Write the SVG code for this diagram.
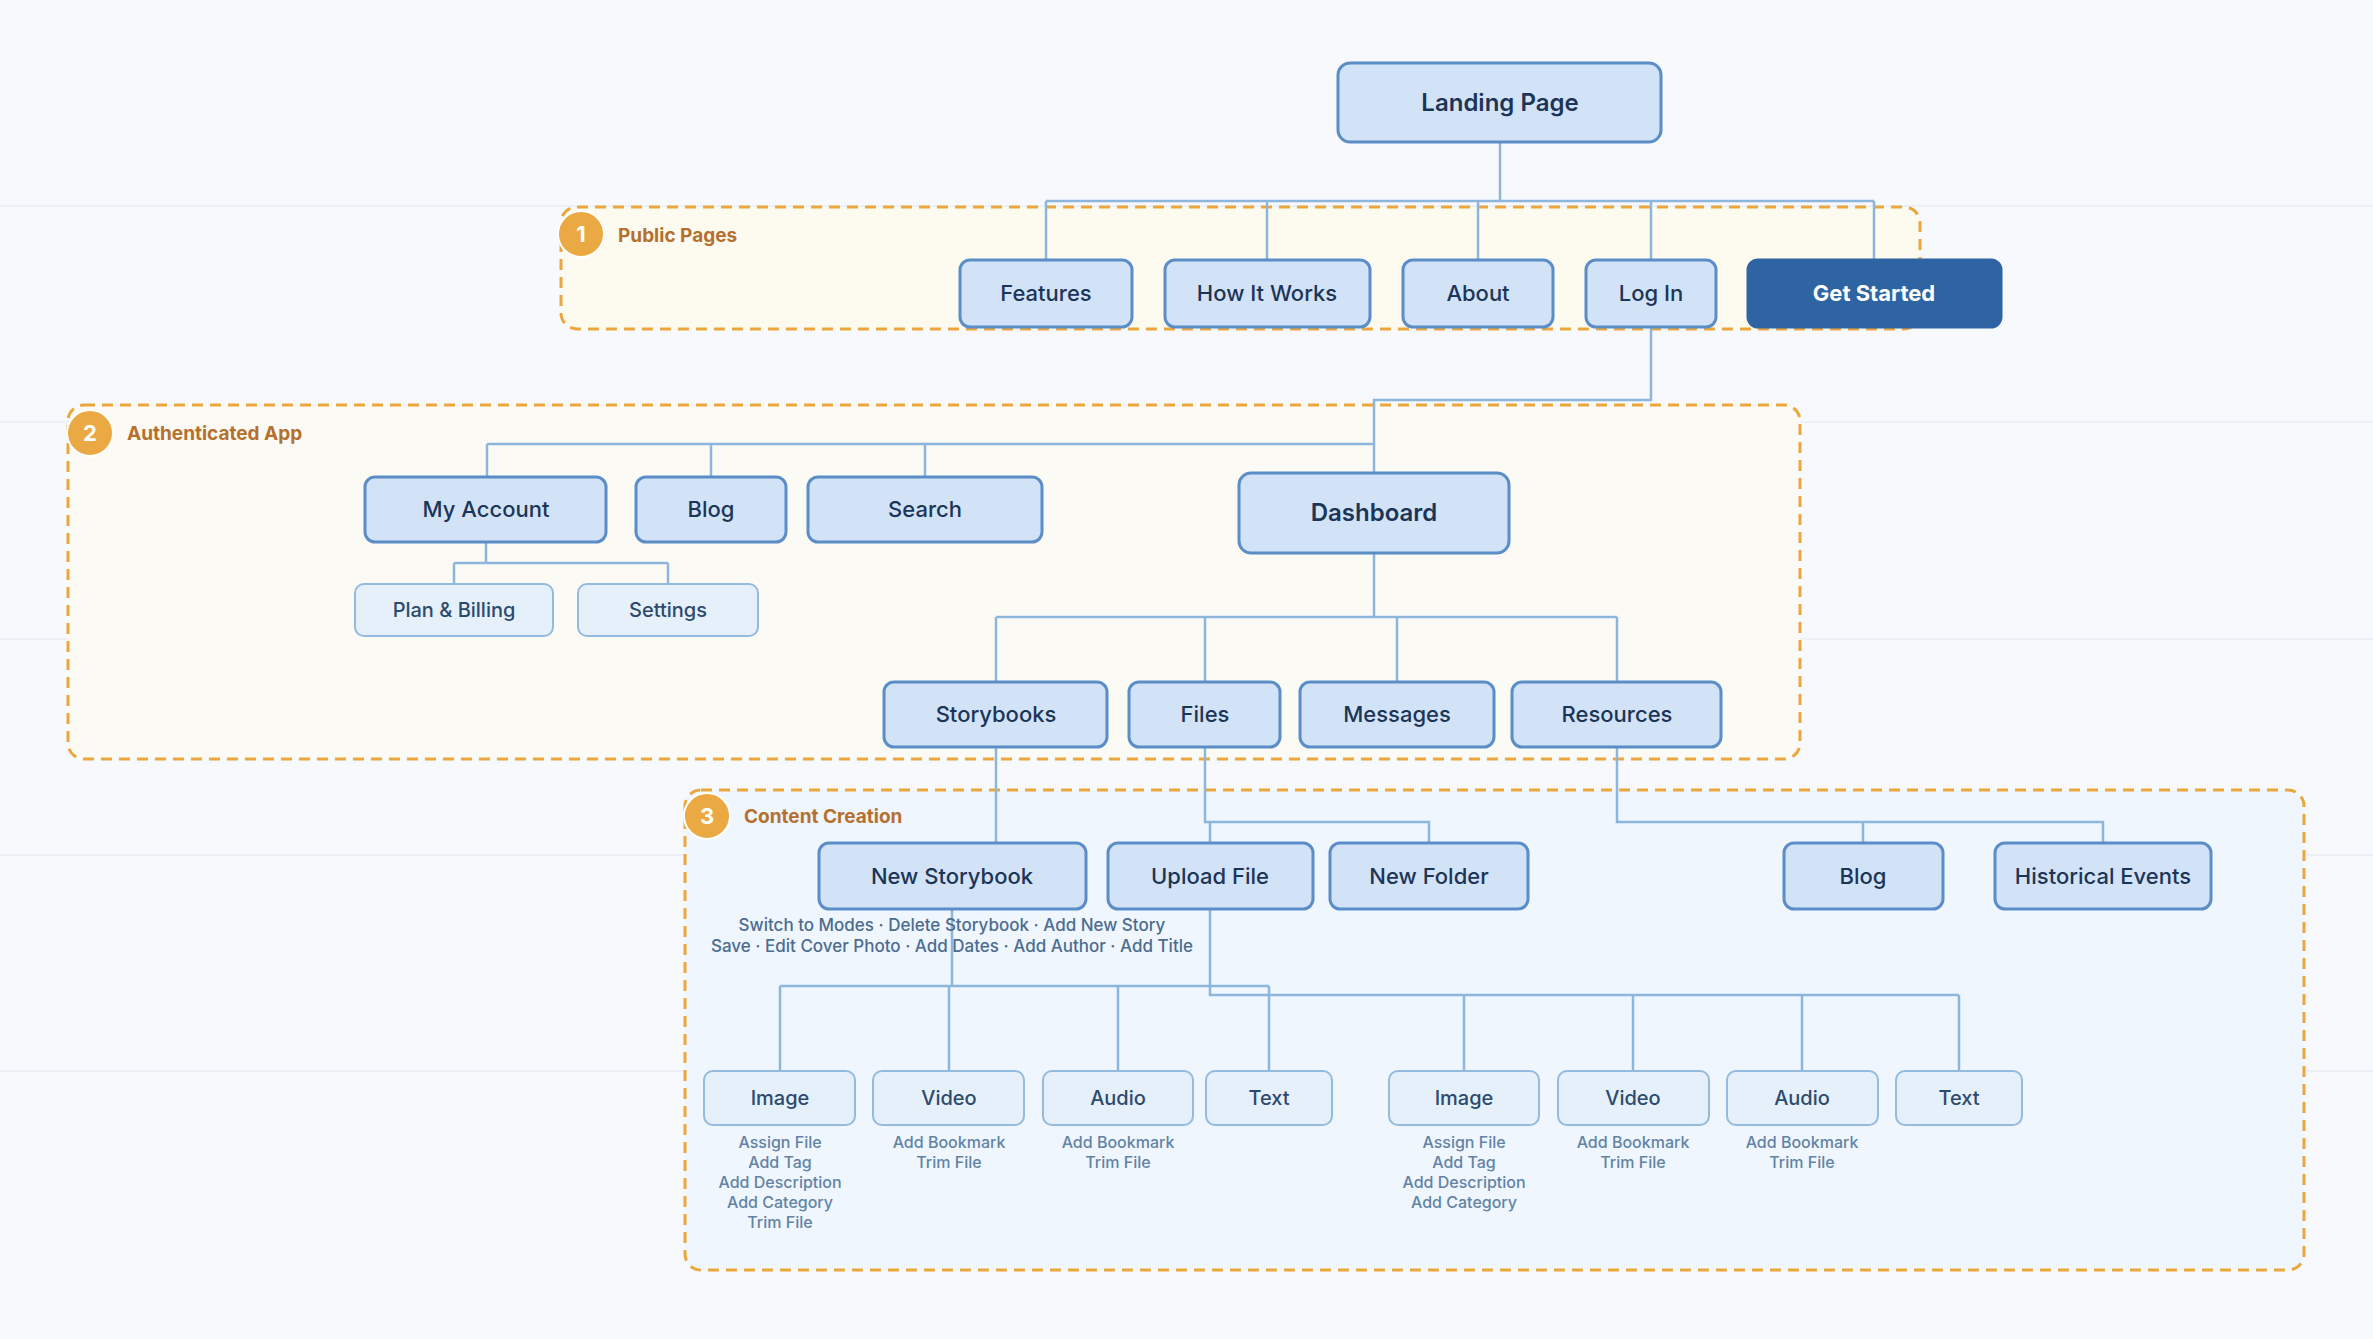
<svg xmlns="http://www.w3.org/2000/svg" width="2373" height="1339" viewBox="0 0 2373 1339">
<defs>
<style>
.bg{fill:#f7f9fd}
.grid{stroke:#edf0f5;stroke-width:2}
.grp{stroke:#eba73d;stroke-width:3;stroke-dasharray:11 7}
.gy{fill:#fdfbef}
.ga{fill:#fbfaf4}
.gc{fill:#eff6fd}
.badge{fill:#eba943;stroke:#ffffff;stroke-width:2}
.bnum{font-family:Inter,"Liberation Sans",sans-serif;font-weight:700;font-size:22px;fill:#ffffff;text-anchor:middle}
.glab{font-family:Inter,"Liberation Sans",sans-serif;font-weight:700;font-size:19px;fill:#b5702f}
.n rect{fill:#d2e3f7;stroke:#5b8ec7;stroke-width:3}
.n text{font-family:Inter,"Liberation Sans",sans-serif;font-weight:500;font-size:22px;fill:#1c3557;text-anchor:middle}
.n.big text{font-weight:600;font-size:24px}
.n.dark rect{fill:#2f64a3;stroke:#2f64a3}
.n.dark text{fill:#ffffff;font-weight:700}
.l rect{fill:#e6f0fa;stroke:#93badf;stroke-width:2}
.l text{font-family:Inter,"Liberation Sans",sans-serif;font-weight:500;font-size:20px;fill:#2c4a6e;text-anchor:middle}
.d{font-family:Inter,"Liberation Sans",sans-serif;font-weight:500;font-size:16px;fill:#6283a5;text-anchor:middle}
.sd{font-family:Inter,"Liberation Sans",sans-serif;font-weight:500;font-size:17px;fill:#4c6c90;text-anchor:middle}
.c{fill:none;stroke:#8db6dd;stroke-width:2.5}
</style>
</defs>
<rect class="bg" x="0" y="0" width="2373" height="1339"/>
<g id="grid">
<line class="grid" x1="0" y1="206" x2="2373" y2="206"/>
<line class="grid" x1="0" y1="422" x2="2373" y2="422"/>
<line class="grid" x1="0" y1="639" x2="2373" y2="639"/>
<line class="grid" x1="0" y1="855" x2="2373" y2="855"/>
<line class="grid" x1="0" y1="1071" x2="2373" y2="1071"/>
</g>
<g id="groups">
<rect class="grp gy" x="561" y="207" width="1359" height="122" rx="16"/>
<rect class="grp ga" x="68" y="405" width="1732" height="354" rx="16"/>
<rect class="grp gc" x="685" y="790" width="1619" height="480" rx="16"/>
</g>
<g id="connectors">
<path class="c" d="M1500,142 V201 M1046,201 H1874 M1046,201 V260 M1267,201 V260 M1478,201 V260 M1651,201 V260 M1874,201 V260"/>
<path class="c" d="M1651,327 V400 H1374 V473"/>
<path class="c" d="M487,444 H1374 M487,444 V477 M711,444 V477 M925,444 V477"/>
<path class="c" d="M486,542 V563 M454,563 H668 M454,563 V584 M668,563 V584"/>
<path class="c" d="M1374,553 V617 M996,617 H1617 M996,617 V682 M1205,617 V682 M1397,617 V682 M1617,617 V682"/>
<path class="c" d="M996,747 V843"/>
<path class="c" d="M1205,747 V822 H1429 V843 M1210,822 V843"/>
<path class="c" d="M1617,747 V822 H2103 V843 M1863,822 V843"/>
<path class="c" d="M952,909 V986 M780,986 H1269 M780,986 V1071 M949,986 V1071 M1118,986 V1071 M1269,986 V1071"/>
<path class="c" d="M1210,909 V995 H1959 M1464,995 V1071 M1633,995 V1071 M1802,995 V1071 M1959,995 V1071"/>
</g>
<g id="badges">
<circle class="badge" cx="581" cy="234" r="23"/><text class="bnum" x="581" y="242">1</text>
<text class="glab" x="618" y="242">Public Pages</text>
<circle class="badge" cx="90" cy="433" r="23"/><text class="bnum" x="90" y="441">2</text>
<text class="glab" x="127" y="440">Authenticated App</text>
<circle class="badge" cx="707" cy="816" r="23"/><text class="bnum" x="707" y="824">3</text>
<text class="glab" x="744" y="823">Content Creation</text>
</g>
<g id="landing" class="n big"><rect x="1338" y="63" width="323" height="79" rx="12"/><text x="1500" y="111">Landing Page</text></g>
<g id="features" class="n"><rect x="960" y="260" width="172" height="67" rx="10"/><text x="1046" y="301">Features</text></g>
<g id="howitworks" class="n"><rect x="1165" y="260" width="205" height="67" rx="10"/><text x="1267" y="301">How It Works</text></g>
<g id="about" class="n"><rect x="1403" y="260" width="150" height="67" rx="10"/><text x="1478" y="301">About</text></g>
<g id="login" class="n"><rect x="1586" y="260" width="130" height="67" rx="10"/><text x="1651" y="301">Log In</text></g>
<g id="getstarted" class="n dark"><rect x="1748" y="260" width="253" height="67" rx="10"/><text x="1874" y="301">Get Started</text></g>
<g id="myaccount" class="n"><rect x="365" y="477" width="241" height="65" rx="10"/><text x="486" y="517">My Account</text></g>
<g id="blog-app" class="n"><rect x="636" y="477" width="150" height="65" rx="10"/><text x="711" y="517">Blog</text></g>
<g id="search" class="n"><rect x="808" y="477" width="234" height="65" rx="10"/><text x="925" y="517">Search</text></g>
<g id="dashboard" class="n big"><rect x="1239" y="473" width="270" height="80" rx="12"/><text x="1374" y="521">Dashboard</text></g>
<g id="plan" class="l"><rect x="355" y="584" width="198" height="52" rx="9"/><text x="454" y="617">Plan &amp; Billing</text></g>
<g id="settings" class="l"><rect x="578" y="584" width="180" height="52" rx="9"/><text x="668" y="617">Settings</text></g>
<g id="storybooks" class="n"><rect x="884" y="682" width="223" height="65" rx="10"/><text x="996" y="722">Storybooks</text></g>
<g id="files" class="n"><rect x="1129" y="682" width="151" height="65" rx="10"/><text x="1205" y="722">Files</text></g>
<g id="messages" class="n"><rect x="1300" y="682" width="194" height="65" rx="10"/><text x="1397" y="722">Messages</text></g>
<g id="resources" class="n"><rect x="1512" y="682" width="209" height="65" rx="10"/><text x="1617" y="722">Resources</text></g>
<g id="newstorybook" class="n"><rect x="819" y="843" width="267" height="66" rx="10"/><text x="952" y="884">New Storybook</text></g>
<g id="uploadfile" class="n"><rect x="1108" y="843" width="205" height="66" rx="10"/><text x="1210" y="884">Upload File</text></g>
<g id="newfolder" class="n"><rect x="1330" y="843" width="198" height="66" rx="10"/><text x="1429" y="884">New Folder</text></g>
<g id="blog-res" class="n"><rect x="1784" y="843" width="159" height="66" rx="10"/><text x="1863" y="884">Blog</text></g>
<g id="historical" class="n"><rect x="1995" y="843" width="216" height="66" rx="10"/><text x="2103" y="884">Historical Events</text></g>
<g id="newstorybook-notes">
<text class="sd" x="952" y="931">Switch to Modes · Delete Storybook · Add New Story</text>
<text class="sd" x="952" y="952">Save · Edit Cover Photo · Add Dates · Add Author · Add Title</text>
</g>
<g id="sb-image" class="l"><rect x="704" y="1071" width="151" height="54" rx="9"/><text x="780" y="1105">Image</text></g>
<g id="sb-video" class="l"><rect x="873" y="1071" width="151" height="54" rx="9"/><text x="949" y="1105">Video</text></g>
<g id="sb-audio" class="l"><rect x="1043" y="1071" width="150" height="54" rx="9"/><text x="1118" y="1105">Audio</text></g>
<g id="sb-text" class="l"><rect x="1206" y="1071" width="126" height="54" rx="9"/><text x="1269" y="1105">Text</text></g>
<g id="uf-image" class="l"><rect x="1389" y="1071" width="150" height="54" rx="9"/><text x="1464" y="1105">Image</text></g>
<g id="uf-video" class="l"><rect x="1558" y="1071" width="151" height="54" rx="9"/><text x="1633" y="1105">Video</text></g>
<g id="uf-audio" class="l"><rect x="1727" y="1071" width="151" height="54" rx="9"/><text x="1802" y="1105">Audio</text></g>
<g id="uf-text" class="l"><rect x="1896" y="1071" width="126" height="54" rx="9"/><text x="1959" y="1105">Text</text></g>
<g id="leaf-notes">
<text class="d" x="780" y="1148">Assign File</text>
<text class="d" x="780" y="1168">Add Tag</text>
<text class="d" x="780" y="1188">Add Description</text>
<text class="d" x="780" y="1208">Add Category</text>
<text class="d" x="780" y="1228">Trim File</text>
<text class="d" x="949" y="1148">Add Bookmark</text>
<text class="d" x="949" y="1168">Trim File</text>
<text class="d" x="1118" y="1148">Add Bookmark</text>
<text class="d" x="1118" y="1168">Trim File</text>
<text class="d" x="1464" y="1148">Assign File</text>
<text class="d" x="1464" y="1168">Add Tag</text>
<text class="d" x="1464" y="1188">Add Description</text>
<text class="d" x="1464" y="1208">Add Category</text>
<text class="d" x="1633" y="1148">Add Bookmark</text>
<text class="d" x="1633" y="1168">Trim File</text>
<text class="d" x="1802" y="1148">Add Bookmark</text>
<text class="d" x="1802" y="1168">Trim File</text>
</g>
</svg>
